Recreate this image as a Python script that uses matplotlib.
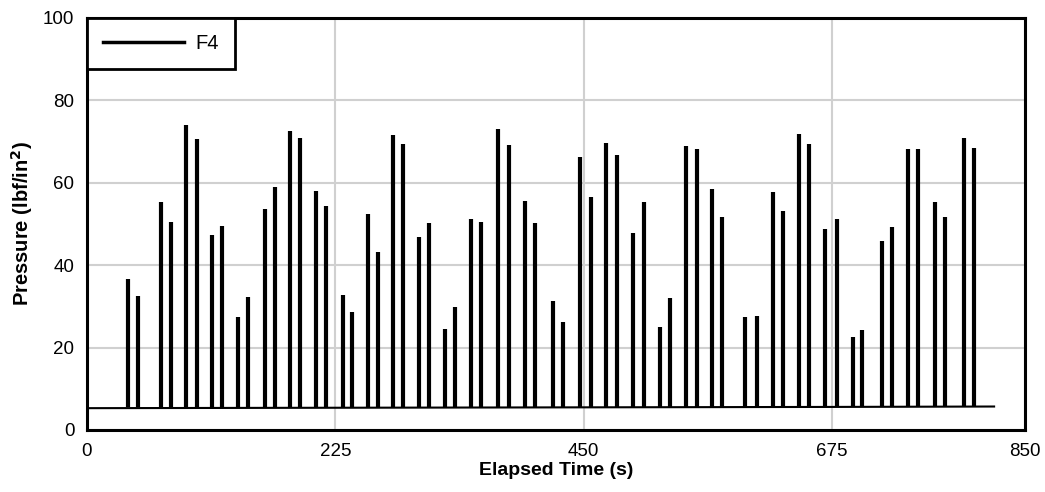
import matplotlib
matplotlib.use("Agg")
import matplotlib.pyplot as plt

plt.rcParams['font.family'] = ['Liberation Sans', 'DejaVu Sans']

# ---- data ----
spike_times = [37.3, 46.6, 67.5, 75.9, 90.1, 99.8, 113.6, 122.7, 136.9, 146.0,
               161.0, 170.4, 184.3, 193.3, 207.5, 216.9,
               231.6, 240.1, 254.6, 263.7, 277.5, 286.6, 300.8, 310.1, 324.3, 333.7,
               348.2, 357.2, 372.6, 382.3, 397.3, 406.1, 422.4, 431.4,
               446.6, 456.8, 470.7, 480.1, 494.6, 504.5, 519.0, 528.3, 542.8, 552.5,
               566.1, 575.1, 596.0, 606.8, 621.3, 630.4, 644.9, 654.5,
               669.0, 679.3, 694.0, 702.2, 720.3, 729.3, 744.1, 752.9, 768.6, 777.4,
               794.6, 803.6]
spike_peaks = [36.6, 32.5, 55.3, 50.5, 74.0, 70.6, 47.3, 49.5, 27.4, 32.4,
               53.7, 58.9, 72.6, 70.9, 57.9, 54.4,
               32.8, 28.6, 52.4, 43.3, 71.7, 69.4, 46.8, 50.2, 24.5, 29.9,
               51.2, 50.5, 73.1, 69.2, 55.7, 50.2, 31.3, 26.2,
               66.3, 56.6, 69.7, 66.7, 47.9, 55.4, 25.0, 32.0, 68.9, 68.1,
               58.5, 51.7, 27.4, 27.7, 57.7, 53.2, 71.8, 69.4,
               48.7, 51.1, 22.5, 24.3, 45.8, 49.2, 68.2, 68.1, 55.3, 51.6,
               70.8, 68.5]
base_times = [0, 225, 450, 675, 822]
base_values = [5.3, 5.4, 5.5, 5.6, 5.7]
base_level = 5.5
series_name = "F4"
x_ticks = [0, 225, 450, 675, 850]
y_ticks = [0, 20, 40, 60, 80, 100]

# ---- figure ----
fig = plt.figure(figsize=(10.45, 4.92), dpi=100)
ax = fig.add_axes([87/1045, 1 - 430/492, (1025 - 87)/1045, (430 - 18)/492])

ax.plot(base_times, base_values, color='black', lw=1.5, label=series_name)
ax.vlines(spike_times, base_level, spike_peaks, color='black', lw=3)

ax.set_xlim(0, 850)
ax.set_ylim(0, 100)
ax.set_xticks(x_ticks)
ax.set_yticks(y_ticks)
ax.tick_params(length=0, labelsize=13.5, pad=9)

ax.grid(True, color='#d0d0d0', lw=1.5)
ax.set_axisbelow(True)
for s in ax.spines.values():
    s.set_linewidth(2.2)
    s.set_color('black')
    s.set_zorder(5)

ax.set_xlabel('Elapsed Time (s)', fontsize=14, fontweight='bold', labelpad=2)
ax.set_ylabel('Pressure (lbf/in$^{\\mathbf{2}}$)', fontsize=14.5, fontweight='bold', labelpad=6)

leg = ax.legend(loc='upper left', borderaxespad=0, fancybox=False,
                edgecolor='black', framealpha=1, fontsize=14.5,
                handlelength=4.0, handletextpad=0.6, borderpad=0.8)
leg.get_frame().set_linewidth(2)
for h in leg.get_lines():
    h.set_linewidth(2.5)
leg.set_zorder(6)

fig.savefig('out.png', dpi=100)
